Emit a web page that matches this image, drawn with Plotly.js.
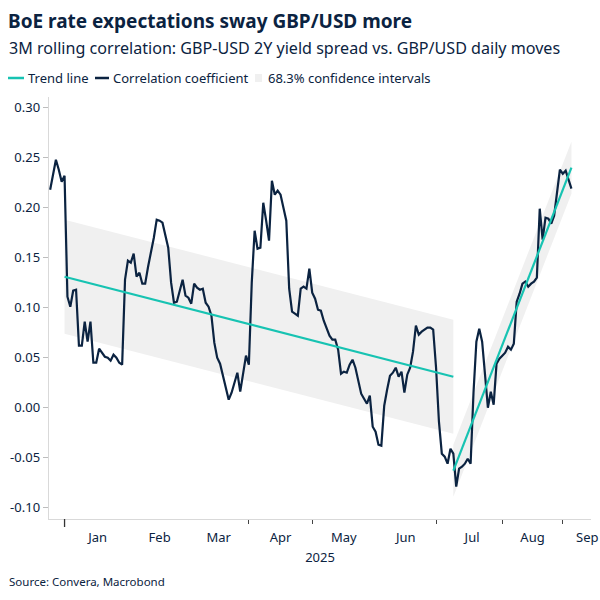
<!DOCTYPE html>
<html>
<head>
<meta charset="utf-8">
<script src="https://cdn.plot.ly/plotly-3.0.1.min.js"></script>
<style>
  html, body { margin: 0; padding: 0; background: #ffffff; }
  #chart { width: 600px; height: 600px; }
</style>
</head>
<body>
<div id="chart"></div>
<script>
// 3M rolling correlation, one value per business day
const corrDates = [
  '2024-12-25','2024-12-26','2024-12-27','2024-12-30','2024-12-31',
  '2025-01-01','2025-01-02','2025-01-03','2025-01-06','2025-01-07','2025-01-08','2025-01-09','2025-01-10',
  '2025-01-13','2025-01-14','2025-01-15','2025-01-16','2025-01-17','2025-01-20','2025-01-21','2025-01-22',
  '2025-01-23','2025-01-24','2025-01-27','2025-01-28','2025-01-29','2025-01-30','2025-01-31',
  '2025-02-03','2025-02-04','2025-02-05','2025-02-06','2025-02-07','2025-02-10','2025-02-11','2025-02-12',
  '2025-02-13','2025-02-14','2025-02-17','2025-02-18','2025-02-19','2025-02-20','2025-02-21','2025-02-24',
  '2025-02-25','2025-02-26','2025-02-27','2025-02-28',
  '2025-03-03','2025-03-04','2025-03-05','2025-03-06','2025-03-07','2025-03-10','2025-03-11','2025-03-12',
  '2025-03-13','2025-03-14','2025-03-17','2025-03-18','2025-03-19','2025-03-20','2025-03-21','2025-03-24',
  '2025-03-25','2025-03-26','2025-03-27','2025-03-28','2025-03-31',
  '2025-04-01','2025-04-02','2025-04-03','2025-04-04','2025-04-07','2025-04-08','2025-04-09','2025-04-10',
  '2025-04-11','2025-04-14','2025-04-15','2025-04-16','2025-04-17','2025-04-18','2025-04-21','2025-04-22',
  '2025-04-23','2025-04-24','2025-04-25','2025-04-28','2025-04-29','2025-04-30',
  '2025-05-01','2025-05-02','2025-05-05','2025-05-06','2025-05-07','2025-05-08','2025-05-09','2025-05-12',
  '2025-05-13','2025-05-14','2025-05-15','2025-05-16','2025-05-19','2025-05-20','2025-05-21','2025-05-22',
  '2025-05-23','2025-05-26','2025-05-27','2025-05-28','2025-05-29','2025-05-30',
  '2025-06-02','2025-06-03','2025-06-04','2025-06-05','2025-06-06','2025-06-09','2025-06-10','2025-06-11',
  '2025-06-12','2025-06-13','2025-06-16','2025-06-17','2025-06-18','2025-06-19','2025-06-20','2025-06-23',
  '2025-06-24','2025-06-25','2025-06-26','2025-06-27','2025-06-30',
  '2025-07-01','2025-07-02','2025-07-03','2025-07-04','2025-07-07','2025-07-08','2025-07-09','2025-07-10',
  '2025-07-11','2025-07-14','2025-07-15','2025-07-16','2025-07-17','2025-07-18','2025-07-21','2025-07-22',
  '2025-07-23','2025-07-24','2025-07-25','2025-07-28','2025-07-29','2025-07-30','2025-07-31',
  '2025-08-01','2025-08-04','2025-08-05','2025-08-06','2025-08-07','2025-08-08','2025-08-11','2025-08-12',
  '2025-08-13','2025-08-14','2025-08-15','2025-08-18','2025-08-19','2025-08-20','2025-08-21','2025-08-22',
  '2025-08-25','2025-08-26','2025-08-27','2025-08-28','2025-08-29',
  '2025-09-01','2025-09-02','2025-09-03','2025-09-04'
];
const corrValues = [
  0.218, 0.234, 0.248, 0.238, 0.226,
  0.232, 0.111, 0.101, 0.117, 0.118, 0.062, 0.062, 0.086,
  0.066, 0.086, 0.045, 0.045, 0.059, 0.055, 0.051, 0.050,
  0.047, 0.053, 0.050, 0.045, 0.043, 0.128, 0.147,
  0.145, 0.154, 0.131, 0.135, 0.124, 0.124, 0.141, 0.154,
  0.170, 0.188, 0.187, 0.185, 0.172, 0.160, 0.125, 0.105,
  0.106, 0.118, 0.128, 0.112,
  0.110, 0.104, 0.124, 0.120, 0.118, 0.119, 0.105, 0.101,
  0.092, 0.065, 0.050, 0.044, 0.032, 0.018, 0.008, 0.015,
  0.026, 0.035, 0.016, 0.032, 0.052,
  0.043, 0.125, 0.177, 0.159, 0.160, 0.205, 0.187, 0.167,
  0.227, 0.213, 0.217, 0.213, 0.200, 0.187, 0.119, 0.096,
  0.094, 0.092, 0.119, 0.121, 0.119, 0.139,
  0.115, 0.109, 0.098, 0.097, 0.087, 0.079, 0.072, 0.068,
  0.068, 0.058, 0.034, 0.036, 0.035, 0.043, 0.048, 0.040,
  0.028, 0.014, 0.009, 0.004, 0.012, -0.019,
  -0.024, -0.037, -0.038, 0.002, 0.018, 0.032, 0.035, 0.040,
  0.031, 0.036, 0.015, 0.033, 0.040, 0.056, 0.082, 0.073,
  0.076, 0.078, 0.080, 0.080, 0.078,
  0.040, -0.014, -0.046, -0.049, -0.056, -0.041, -0.046, -0.079,
  -0.061, -0.059, -0.056, -0.051, -0.056, 0.015, 0.066, 0.079,
  0.066, 0.035, 0.000, 0.016, 0.003, 0.044, 0.049,
  0.052, 0.055, 0.061, 0.058, 0.064, 0.106, 0.114, 0.124,
  0.126, 0.121, 0.124, 0.126, 0.130, 0.199, 0.168, 0.190,
  0.189, 0.184, 0.192, 0.213, 0.238,
  0.234, 0.237, 0.228, 0.219
];

// Linear trend fits and their 68.3% confidence intervals
const trendDatesA = ['2025-01-01', '2025-07-09'];
const trendValuesA = [0.131, 0.031];
const bandUpperA = [0.188, 0.088];
const bandLowerA = [0.074, -0.026];

const trendDatesB = ['2025-07-09', '2025-09-04'];
const trendValuesB = [-0.063, 0.240];
const bandUpperB = [-0.037, 0.266];
const bandLowerB = [-0.089, 0.214];

// Axis ticks
const monthStarts = ['2025-01-01','2025-02-01','2025-03-01','2025-04-01','2025-05-01',
                     '2025-06-01','2025-07-01','2025-08-01','2025-09-01'];
const monthLabelDates = ['2025-01-16 12:00','2025-02-17','2025-03-17 12:00','2025-04-16',
                         '2025-05-16','2025-06-16 12:00','2025-07-17 12:00','2025-08-15 12:00','2025-09-11 12:00'];
const monthLabels = ['Jan','Feb','Mar','Apr','May','Jun','Jul','Aug','Sep'];
const yTickValues = [-0.10, -0.05, 0.00, 0.05, 0.10, 0.15, 0.20, 0.25, 0.30];
const yTickLabels = ['-0.10','-0.05','0.00','0.05','0.10','0.15','0.20','0.25','0.30'];

const NAVY = '#0b2341';
const TEAL = '#17c3b2';
const BAND = '#f0f0f0';
const FONT = 'Noto Sans, Open Sans, sans-serif';

function bandPolygon(dates, upper, lower) {
  return {
    x: [dates[0], dates[1], dates[1], dates[0], dates[0]],
    y: [upper[0], upper[1], lower[1], lower[0], upper[0]]
  };
}

const pA = bandPolygon(trendDatesA, bandUpperA, bandLowerA);
const pB = bandPolygon(trendDatesB, bandUpperB, bandLowerB);

const traces = [
  { type: 'scatter', mode: 'lines', x: pA.x, y: pA.y, fill: 'toself',
    fillcolor: BAND, line: { width: 0, color: BAND }, name: '68.3% confidence intervals', hoverinfo: 'skip' },
  { type: 'scatter', mode: 'lines', x: pB.x, y: pB.y, fill: 'toself',
    fillcolor: BAND, line: { width: 0, color: BAND }, showlegend: false, hoverinfo: 'skip' },
  { type: 'scatter', mode: 'lines', x: corrDates, y: corrValues,
    line: { color: NAVY, width: 2.2 }, name: 'Correlation coefficient' },
  { type: 'scatter', mode: 'lines', x: trendDatesA, y: trendValuesA,
    line: { color: TEAL, width: 2.2 }, name: 'Trend line' },
  { type: 'scatter', mode: 'lines', x: trendDatesB, y: trendValuesB,
    line: { color: TEAL, width: 2.2 }, showlegend: false }
];

// plot area: 49..591 px horizontally, 97..519 px vertically
const L = 49, R = 591, T = 97, B = 519;
const px = v => (v - L) / (R - L);
const py = v => (B - v) / (B - T);

const legendY = py(78);
const shapes = [
  { type: 'line', xref: 'paper', yref: 'paper', x0: px(8), x1: px(24), y0: legendY, y1: legendY,
    line: { color: TEAL, width: 2.5 } },
  { type: 'line', xref: 'paper', yref: 'paper', x0: px(95), x1: px(109), y0: legendY, y1: legendY,
    line: { color: NAVY, width: 2.5 } },
  { type: 'rect', xref: 'paper', yref: 'paper', x0: px(255), x1: px(262), y0: py(82), y1: py(74),
    fillcolor: BAND, line: { width: 0 } },
  // year boundary tick
  { type: 'line', xref: 'x', yref: 'paper', x0: '2025-01-01', x1: '2025-01-01', y0: 0, y1: py(527),
    line: { color: '#333333', width: 1.3 } }
];

const txt = (text, x, y, size, extra) => Object.assign({
  text, x, y, xref: 'paper', yref: 'paper', xanchor: 'left', yanchor: 'middle',
  showarrow: false, font: { family: FONT, size, color: NAVY }
}, extra || {});

const annotations = [
  txt('3M rolling correlation: GBP-USD 2Y yield spread vs. GBP/USD daily moves', px(7), py(48), 16.1),
  txt('Trend line', px(26), legendY, 13),
  txt('Correlation coefficient', px(111), legendY, 13),
  txt('68.3% confidence intervals', px(266), legendY, 13),
  txt('Source: Convera, Macrobond', px(7), py(581), 11.5)
];

const layout = {
  width: 600, height: 600,
  margin: { l: L, r: 600 - R, t: T, b: 600 - B },
  paper_bgcolor: '#ffffff', plot_bgcolor: '#ffffff',
  showlegend: false,
  font: { family: FONT, color: NAVY, size: 13 },
  title: {
    text: 'BoE rate expectations sway GBP/USD more',
    xref: 'container', yref: 'container', x: 8 / 600, xanchor: 'left',
    y: 1 - 21 / 600, yanchor: 'middle',
    font: { family: FONT, size: 19, weight: 700, color: NAVY }
  },
  xaxis: {
    type: 'date',
    range: ['2024-12-24 14:24', '2025-09-12 19:12'],
    rangebreaks: [{ bounds: ['sat', 'mon'] }],
    tickmode: 'array', tickvals: monthLabelDates, ticktext: monthLabels,
    ticks: 'outside', ticklen: 6, tickcolor: 'rgba(0,0,0,0)',
    tickfont: { family: FONT, size: 13, color: NAVY },
    minor: { tickmode: 'array', tickvals: monthStarts, ticks: 'outside', ticklen: 4,
             tickcolor: '#444444', tickwidth: 1, showgrid: false },
    showline: true, linecolor: '#d9d9d9', linewidth: 1.3,
    showgrid: false, zeroline: false,
    title: { text: '2025', standoff: 8, font: { family: FONT, size: 13, color: NAVY } }
  },
  yaxis: {
    range: [-0.1113, 0.3107],
    tickmode: 'array', tickvals: yTickValues, ticktext: yTickLabels,
    ticks: 'outside', ticklen: 5, tickcolor: '#bdbdbd', tickwidth: 1,
    tickfont: { family: FONT, size: 13, color: NAVY },
    showline: true, linecolor: '#d9d9d9', linewidth: 1.3,
    showgrid: false, zeroline: false
  },
  shapes, annotations
};

Plotly.newPlot('chart', traces, layout, { staticPlot: true, displayModeBar: false });
</script>
</body>
</html>
